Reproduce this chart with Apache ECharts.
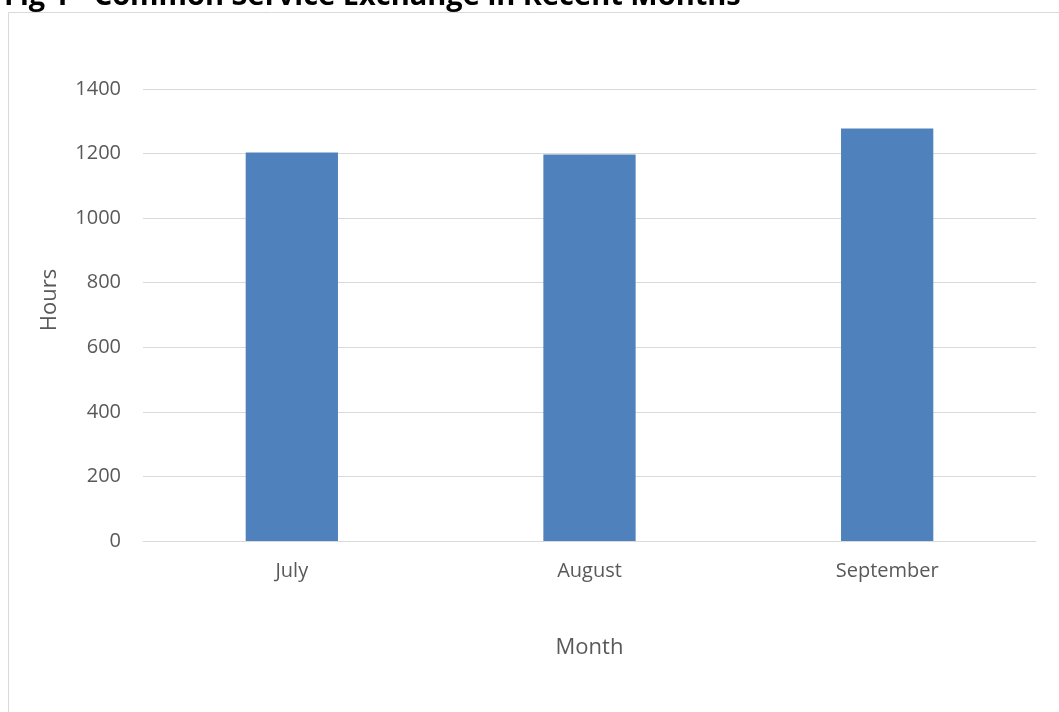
<!DOCTYPE html>
<html><head><meta charset="utf-8">
<script src="https://cdn.jsdelivr.net/npm/echarts@6/dist/echarts.min.js"></script>
<style>html,body{margin:0;padding:0;background:#fff}#c{width:1059px;height:712px}</style>
</head><body><div id="c"></div>
<script>
const categories = ['July', 'August', 'September'];
const hours = [1203, 1197, 1278];
const yTicks = [0, 200, 400, 600, 800, 1000, 1200, 1400];
const titleText = 'Fig 1 - Common Service Exchange in Recent Months';
const yName = 'Hours';
const xName = 'Month';

const chart = echarts.init(document.getElementById('c'));
const font = 'Open Sans';
chart.setOption({
  animation: false,
  backgroundColor: '#fff',
  title: {
    text: titleText, left: -1, top: -23,
    textStyle: { fontFamily: font, fontWeight: 'bold', fontSize: 29, color: '#000' }
  },
  graphic: [{
    type: 'rect', shape: { x: 8.5, y: 12.5, width: 1200, height: 900 },
    style: { fill: 'none', stroke: '#D9D9D9', lineWidth: 1 }, z: -1
  }, {
    type: 'text', x: 50, y: 300, rotation: Math.PI / 2,
    style: { text: yName, fontFamily: font, fontSize: 22, fill: '#595959',
      align: 'center', verticalAlign: 'middle' }
  }],
  grid: { left: 143, right: 23, top: 89, bottom: 171, containLabel: false },
  xAxis: {
    type: 'category', data: categories,
    name: xName, nameLocation: 'middle', nameGap: 96,
    nameTextStyle: { fontFamily: font, fontSize: 22, color: '#595959' },
    axisLine: { lineStyle: { color: '#D9D9D9', width: 1 } },
    axisTick: { show: false },
    axisLabel: { fontFamily: font, fontSize: 20, color: '#595959', margin: 20 }
  },
  yAxis: {
    type: 'value', min: 0, max: 1400, interval: 200,
    axisLine: { show: false }, axisTick: { show: false },
    splitLine: { lineStyle: { color: '#D9D9D9', width: 1 } },
    axisLabel: {
      fontFamily: font, fontSize: 20, color: '#595959', margin: 22,
      formatter: v => yTicks.includes(v) ? String(v) : ''
    }
  },
  series: [{
    type: 'bar', data: hours, barWidth: '31%',
    itemStyle: { color: '#4F81BD' }
  }]
});
</script></body></html>
